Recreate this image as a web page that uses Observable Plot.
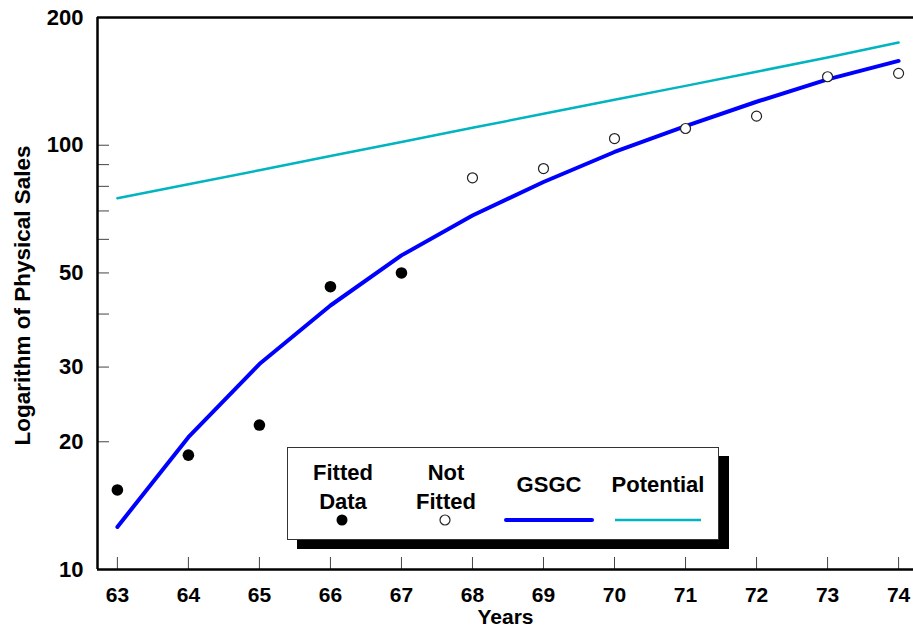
<!DOCTYPE html>
<html>
<head>
<meta charset="utf-8">
<script src="https://cdn.jsdelivr.net/npm/d3@7"></script>
<script src="https://cdn.jsdelivr.net/npm/@observablehq/plot@0.6"></script>
<style>
  html, body { margin: 0; padding: 0; background: #fff; }
  #wrap { position: relative; width: 913px; height: 634px; font-family: "Liberation Sans", Arial, sans-serif; }
  #legend {
    position: absolute; left: 287px; top: 447px; width: 430px; height: 91px;
    background: #fff; border: 1px solid #333; box-shadow: 10px 9px 0 #000;
    font-weight: bold; font-size: 22px; color: #000;
  }
  .item { position: absolute; text-align: center; line-height: 29px; }
  .sym { position: absolute; }
</style>
</head>
<body>
<div id="wrap"></div>
<script>
// ---- data ----
const years = [63, 64, 65, 66, 67, 68, 69, 70, 71, 72, 73, 74];
const fittedYears = [63, 64, 65, 66, 67];
const fittedValues = [15.4, 18.6, 21.9, 46.4, 50.0];
const notFittedYears = [68, 69, 70, 71, 72, 73, 74];
const notFittedValues = [83.8, 88.1, 103.7, 109.5, 117.1, 145.0, 147.7];
const gsgcValues = [12.6, 20.5, 30.5, 41.9, 55.0, 68.3, 81.9, 96.4, 110.9, 126.6, 143.0, 158.0];
const potentialValues = [75.0, 80.9, 87.3, 94.3, 101.8, 109.9, 118.6, 128.0, 138.0, 149.0, 161.0, 174.6];
const yLabelTicks = [10, 20, 30, 50, 100, 200];
const yMinorTicks = [20, 30, 40, 50, 60, 70, 80, 90, 100];
const xTicks = years;
const xDomain = [62.72, 74.21];
const yDomain = [10, 200];

const fitted = fittedYears.map((x, i) => ({x, y: fittedValues[i]}));
const notFitted = notFittedYears.map((x, i) => ({x, y: notFittedValues[i]}));
const gsgc = years.map((x, i) => ({x, y: gsgcValues[i]}));
const potential = years.map((x, i) => ({x, y: potentialValues[i]}));

const font = "Liberation Sans, Arial, sans-serif";

const chart = Plot.plot({
  width: 913,
  height: 634,
  marginLeft: 97,
  marginRight: 0,
  marginTop: 17,
  marginBottom: 65,
  style: {fontFamily: font, background: "#fff", overflow: "visible"},
  x: {domain: xDomain},
  y: {type: "log", domain: yDomain},
  marks: [
    // inward tick marks
    Plot.axisY({ticks: yMinorTicks, tickSize: -12, tickFormat: () => "", stroke: "#444", label: null}),
    Plot.axisX({ticks: xTicks, tickSize: -12, tickFormat: () => "", stroke: "#444", label: null}),
    // tick labels
    Plot.axisY({ticks: yLabelTicks, tickSize: 0, tickPadding: 14, tickFormat: d => String(d),
      fontSize: 22, fontWeight: "bold", fill: "#000", label: null}),
    Plot.axisX({ticks: xTicks, tickSize: 0, tickPadding: 18, tickFormat: d => String(d),
      fontSize: 21, fontWeight: "bold", fill: "#000", label: null}),
    // axis titles
    Plot.text(["Logarithm of Physical Sales"], {frameAnchor: "left", textAnchor: "middle", dx: -75, dy: 2, rotate: -90,
      fontSize: 22.5, fontWeight: "bold", fill: "#000"}),
    Plot.text(["Years"], {frameAnchor: "bottom", dy: 54, fontSize: 21, fontWeight: "bold", fill: "#000"}),
    // frame lines
    Plot.ruleY([yDomain[0], yDomain[1]], {stroke: "#000", strokeWidth: 2.5}),
    Plot.ruleX([xDomain[0]], {stroke: "#000", strokeWidth: 2.5}),
    // series
    Plot.line(potential, {x: "x", y: "y", stroke: "#00b4c0", strokeWidth: 2.5}),
    Plot.line(gsgc, {x: "x", y: "y", stroke: "#0000ff", strokeWidth: 4}),
    Plot.dot(fitted, {x: "x", y: "y", r: 5.8, fill: "#000", stroke: "none"}),
    Plot.dot(notFitted, {x: "x", y: "y", r: 5, fill: "#fff", stroke: "#222", strokeWidth: 1.2})
  ]
});

const wrap = document.getElementById("wrap");
wrap.appendChild(chart);

// legend overlay
const legend = document.createElement("div");
legend.id = "legend";
legend.innerHTML = `
  <div class="item" style="left:9px; top:10px; width:92px;">Fitted<br>Data</div>
  <svg class="sym" style="left:48px; top:66px;" width="12" height="12"><circle cx="6" cy="6" r="5.5" fill="#000"/></svg>
  <div class="item" style="left:112px; top:10px; width:92px;">Not<br>Fitted</div>
  <svg class="sym" style="left:151px; top:66px;" width="12" height="12"><circle cx="6" cy="6" r="5" fill="#fff" stroke="#222" stroke-width="1.2"/></svg>
  <div class="item" style="left:206px; top:22px; width:110px;">GSGC</div>
  <svg class="sym" style="left:216px; top:68px;" width="90" height="8"><line x1="2" y1="4" x2="88" y2="4" stroke="#0000ff" stroke-width="4" stroke-linecap="round"/></svg>
  <div class="item" style="left:310px; top:22px; width:120px;">Potential</div>
  <svg class="sym" style="left:326px; top:68px;" width="90" height="8"><line x1="1" y1="4" x2="87" y2="4" stroke="#00b4c0" stroke-width="2.5"/></svg>
`;
wrap.appendChild(legend);
</script>
</body>
</html>
